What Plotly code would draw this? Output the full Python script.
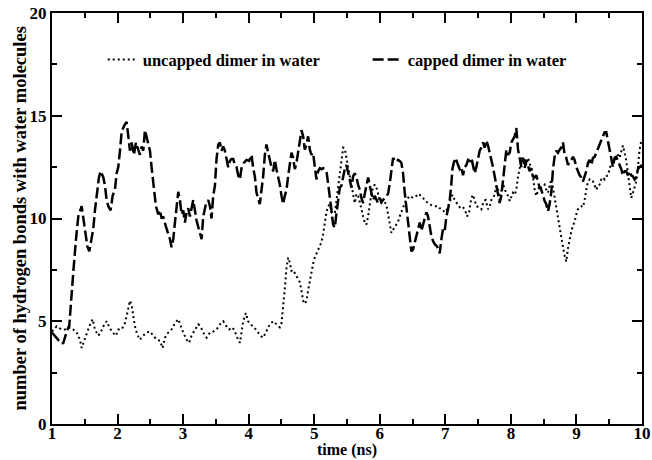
import plotly.graph_objects as go

# capped dimer in water (dashed)
capped_t = [1.000, 1.071, 1.147, 1.173, 1.224, 1.264, 1.300, 1.325, 1.366, 1.401, 1.452, 1.478, 1.503, 1.539, 1.569,
            1.605, 1.630, 1.655, 1.681, 1.716, 1.742, 1.783, 1.808, 1.833, 1.859, 1.894, 1.925, 1.960, 1.986, 2.011,
            2.037, 2.062, 2.098, 2.138, 2.164, 2.189, 2.214, 2.250, 2.280, 2.316, 2.341, 2.367, 2.392, 2.418, 2.443,
            2.468, 2.494, 2.519, 2.545, 2.585, 2.621, 2.646, 2.672, 2.697, 2.738, 2.773, 2.799, 2.824, 2.850, 2.875,
            2.900, 2.926, 2.951, 2.977, 3.002, 3.027, 3.053, 3.078, 3.104, 3.129, 3.154, 3.180, 3.205, 3.256, 3.282,
            3.307, 3.348, 3.383, 3.409, 3.434, 3.459, 3.485, 3.510, 3.536, 3.561, 3.586, 3.612, 3.637, 3.663, 3.688,
            3.713, 3.739, 3.764, 3.790, 3.815, 3.840, 3.866, 3.891, 3.926, 3.967, 4.008, 4.043, 4.069, 4.094, 4.120,
            4.145, 4.170, 4.196, 4.221, 4.247, 4.272, 4.297, 4.323, 4.348, 4.374, 4.399, 4.424, 4.450, 4.475, 4.501,
            4.526, 4.551, 4.577, 4.602, 4.628, 4.653, 4.678, 4.704, 4.729, 4.755, 4.780, 4.805, 4.831, 4.856, 4.882,
            4.907, 4.933, 4.958, 4.983, 5.009, 5.034, 5.060, 5.085, 5.110, 5.136, 5.161, 5.187, 5.212, 5.237, 5.263,
            5.288, 5.314, 5.339, 5.364, 5.390, 5.415, 5.441, 5.466, 5.491, 5.517, 5.542, 5.568, 5.593, 5.618, 5.644,
            5.669, 5.695, 5.720, 5.746, 5.771, 5.796, 5.822, 5.847, 5.873, 5.898, 5.923, 5.949, 5.974, 6.000, 6.025,
            6.050, 6.076, 6.101, 6.127, 6.152, 6.177, 6.203, 6.228, 6.254, 6.279, 6.304, 6.330, 6.355, 6.381, 6.406,
            6.431, 6.457, 6.482, 6.508, 6.533, 6.559, 6.584, 6.609, 6.635, 6.660, 6.686, 6.711, 6.736, 6.762, 6.787,
            6.813, 6.838, 6.874, 6.914, 6.940, 6.965, 6.991, 7.016, 7.041, 7.067, 7.092, 7.108, 7.128, 7.158, 7.194,
            7.219, 7.245, 7.270, 7.296, 7.321, 7.346, 7.372, 7.397, 7.423, 7.448, 7.473, 7.499, 7.524, 7.550, 7.575,
            7.600, 7.626, 7.651, 7.677, 7.702, 7.727, 7.753, 7.778, 7.804, 7.829, 7.854, 7.880, 7.905, 7.931, 7.956,
            7.982, 8.007, 8.032, 8.058, 8.083, 8.109, 8.134, 8.159, 8.185, 8.210, 8.236, 8.261, 8.286, 8.312, 8.337,
            8.363, 8.388, 8.413, 8.439, 8.464, 8.490, 8.515, 8.540, 8.566, 8.591, 8.617, 8.642, 8.667, 8.693, 8.718,
            8.744, 8.769, 8.795, 8.820, 8.845, 8.871, 8.896, 8.922, 8.947, 8.972, 8.998, 9.023, 9.049, 9.074, 9.099,
            9.125, 9.150, 9.176, 9.201, 9.226, 9.252, 9.277, 9.303, 9.328, 9.353, 9.379, 9.404, 9.430, 9.455, 9.480,
            9.506, 9.531, 9.557, 9.582, 9.608, 9.633, 9.658, 9.684, 9.709, 9.735, 9.760, 9.785, 9.811, 9.836, 9.862,
            9.887, 9.912, 9.938, 9.963, 10.000]
capped_hb = [4.45, 4.2, 3.9, 3.95, 4.5, 4.8, 6.1, 7.4, 9.0, 10.1, 10.6, 10.0, 9.3, 8.65, 8.4,
             9.1, 9.5, 10.4, 11.1, 12.0, 12.3, 12.0, 11.6, 10.9, 10.6, 10.4, 11.1, 11.4, 12.2, 12.5,
             13.3, 14.2, 14.5, 14.7, 14.0, 13.3, 13.7, 13.1, 13.7, 13.4, 13.1, 13.5, 13.3, 14.3, 14.0,
             13.7, 13.3, 12.5, 11.6, 10.6, 10.2, 10.4, 10.0, 10.1, 9.6, 9.3, 9.0, 8.6, 9.0, 9.8,
             10.6, 11.3, 10.9, 10.2, 10.4, 9.8, 10.3, 10.5, 10.1, 10.6, 10.9, 10.4, 9.9, 9.3, 9.0,
             10.1, 10.7, 10.9, 10.6, 10.0, 11.1, 11.6, 12.9, 13.6, 13.7, 13.3, 13.5, 13.3, 12.9, 12.5,
             12.8, 12.9, 12.9, 12.6, 12.5, 12.1, 11.9, 12.45, 12.7, 12.85, 12.8, 13.1, 12.45, 12.05, 11.25,
             10.9, 10.7, 11.4, 12.05, 13.1, 13.6, 13.2, 12.8, 12.5, 12.3, 12.85, 12.4, 12.05, 11.65, 11.1,
             10.7, 11.1, 11.4, 12.05, 12.8, 13.2, 12.95, 12.4, 12.7, 13.35, 13.75, 14.3, 14.0, 13.35, 13.6,
             14.0, 13.35, 13.1, 13.2, 12.5, 11.9, 12.3, 12.45, 12.4, 12.45, 12.4, 12.3, 11.7, 10.9, 10.4,
             9.7, 9.55, 10.25, 10.9, 11.5, 11.6, 12.1, 12.4, 12.6, 12.3, 11.9, 11.5, 12.05, 12.2, 12.0,
             11.65, 11.4, 11.0, 10.75, 11.2, 11.7, 12.0, 11.6, 11.2, 10.9, 11.1, 10.9, 10.75, 11.0, 10.8,
             10.9, 11.0, 11.1, 11.2, 11.7, 12.2, 12.95, 12.8, 12.75, 12.85, 12.8, 12.7, 12.2, 11.25, 10.6,
             9.8, 9.0, 8.4, 8.5, 8.8, 9.15, 9.55, 9.8, 9.4, 9.7, 10.1, 10.3, 10.1, 9.6, 9.15,
             8.9, 8.75, 8.65, 8.3, 9.0, 9.5, 9.4, 10.1, 10.45, 10.9, 11.7, 12.4, 12.7, 12.95, 12.6,
             12.4, 12.5, 12.1, 12.5, 12.6, 12.85, 12.8, 12.95, 12.6, 12.2, 12.5, 12.95, 13.3, 13.45, 13.7,
             13.45, 13.8, 13.55, 13.2, 12.95, 12.5, 12.05, 11.6, 11.25, 10.75, 11.1, 11.9, 12.7, 13.35, 13.1,
             13.2, 13.7, 13.85, 14.0, 14.4, 13.35, 12.95, 12.5, 12.95, 12.45, 12.85, 12.6, 12.3, 12.45, 12.05,
             12.0, 12.1, 11.8, 11.5, 11.4, 11.1, 10.85, 10.7, 10.35, 10.7, 11.3, 12.4, 13.0, 13.3, 13.2,
             13.35, 13.45, 13.7, 13.1, 12.95, 12.6, 12.8, 12.85, 13.0, 12.85, 12.5, 12.3, 12.1, 12.0, 11.8,
             12.05, 12.3, 12.7, 12.85, 12.6, 12.95, 13.0, 13.2, 13.35, 13.55, 13.8, 14.0, 14.2, 14.2, 13.8,
             13.45, 12.95, 12.5, 12.95, 13.0, 12.8, 12.6, 12.4, 12.1, 12.3, 12.3, 12.1, 12.3, 12.1, 12.05,
             11.9, 12.0, 12.4, 12.5, 12.6]

# uncapped dimer in water (dotted)
uncapped_t = [1.000, 1.071, 1.147, 1.224, 1.274, 1.325, 1.376, 1.427, 1.452, 1.488, 1.528, 1.569, 1.620, 1.655, 1.706,
              1.742, 1.783, 1.833, 1.874, 1.925, 1.976, 2.011, 2.062, 2.113, 2.148, 2.189, 2.214, 2.240, 2.265, 2.301,
              2.341, 2.392, 2.443, 2.494, 2.545, 2.596, 2.646, 2.687, 2.723, 2.773, 2.824, 2.875, 2.926, 2.961, 3.002,
              3.053, 3.093, 3.129, 3.180, 3.231, 3.266, 3.307, 3.358, 3.409, 3.459, 3.510, 3.561, 3.612, 3.663, 3.703,
              3.754, 3.790, 3.825, 3.866, 3.891, 3.916, 3.957, 3.992, 4.028, 4.069, 4.109, 4.145, 4.180, 4.221, 4.247,
              4.282, 4.323, 4.374, 4.424, 4.475, 4.501, 4.526, 4.541, 4.556, 4.577, 4.602, 4.628, 4.653, 4.678, 4.704,
              4.729, 4.755, 4.780, 4.805, 4.831, 4.856, 4.882, 4.907, 4.933, 4.958, 4.983, 5.009, 5.044, 5.075, 5.110,
              5.136, 5.161, 5.187, 5.212, 5.237, 5.263, 5.288, 5.314, 5.339, 5.364, 5.390, 5.415, 5.441, 5.466, 5.491,
              5.517, 5.542, 5.568, 5.593, 5.618, 5.644, 5.669, 5.695, 5.720, 5.746, 5.771, 5.796, 5.822, 5.847, 5.873,
              5.898, 5.923, 5.949, 5.974, 6.000, 6.025, 6.050, 6.076, 6.101, 6.127, 6.152, 6.177, 6.203, 6.228, 6.254,
              6.279, 6.304, 6.330, 6.355, 6.381, 6.406, 6.457, 6.508, 6.559, 6.584, 6.635, 6.686, 6.736, 6.787, 6.838,
              6.889, 6.914, 6.955, 6.991, 7.026, 7.067, 7.108, 7.143, 7.179, 7.219, 7.255, 7.296, 7.331, 7.362, 7.397,
              7.423, 7.448, 7.473, 7.514, 7.550, 7.585, 7.616, 7.651, 7.677, 7.702, 7.727, 7.753, 7.778, 7.804, 7.829,
              7.854, 7.880, 7.905, 7.931, 7.956, 7.982, 8.007, 8.032, 8.058, 8.083, 8.109, 8.134, 8.159, 8.185, 8.210,
              8.236, 8.261, 8.286, 8.312, 8.337, 8.363, 8.388, 8.413, 8.439, 8.464, 8.490, 8.515, 8.540, 8.566, 8.591,
              8.617, 8.642, 8.667, 8.693, 8.718, 8.744, 8.769, 8.795, 8.820, 8.845, 8.871, 8.896, 8.922, 8.947, 8.972,
              8.998, 9.023, 9.049, 9.074, 9.099, 9.125, 9.150, 9.176, 9.201, 9.226, 9.252, 9.277, 9.303, 9.328, 9.353,
              9.379, 9.404, 9.430, 9.455, 9.480, 9.506, 9.531, 9.557, 9.582, 9.608, 9.633, 9.658, 9.684, 9.709, 9.735,
              9.760, 9.785, 9.811, 9.836, 9.862, 9.887, 9.912, 9.938, 9.963, 9.994]
uncapped_hb = [4.5, 4.75, 4.6, 4.6, 4.7, 4.6, 4.45, 4.1, 3.7, 4.05, 4.45, 4.75, 5.1, 4.6, 4.3,
               4.45, 4.75, 5.0, 4.7, 4.45, 4.3, 4.6, 4.6, 4.9, 5.4, 6.0, 5.8, 5.3, 4.75, 4.35,
               4.1, 4.3, 4.45, 4.5, 4.3, 4.1, 4.05, 3.7, 4.2, 4.45, 4.6, 4.9, 5.1, 4.75, 4.45,
               4.1, 3.95, 4.3, 4.6, 4.85, 4.75, 4.45, 4.2, 4.45, 4.5, 4.6, 4.85, 5.0, 4.75, 4.6,
               4.7, 4.5, 4.2, 3.95, 4.45, 5.0, 5.4, 5.0, 4.85, 4.75, 4.6, 4.45, 4.3, 4.2, 4.35,
               4.6, 4.85, 5.0, 4.85, 4.7, 4.9, 5.6, 6.2, 6.75, 7.6, 8.1, 7.85, 7.45, 7.5, 7.35,
               7.2, 7.05, 6.9, 6.5, 6.0, 5.85, 6.0, 6.5, 6.95, 7.45, 7.8, 8.1, 8.35, 8.6, 8.85,
               9.25, 9.8, 10.3, 10.6, 10.7, 10.3, 10.25, 10.25, 10.9, 11.4, 12.2, 12.8, 13.45, 13.4, 12.95,
               12.6, 12.1, 11.6, 11.1, 10.75, 11.2, 11.1, 10.8, 10.4, 10.1, 9.8, 9.7, 10.1, 10.75, 11.25,
               11.5, 11.65, 11.5, 11.2, 10.9, 10.75, 10.8, 10.8, 10.65, 10.2, 9.7, 9.3, 9.45, 9.6, 9.7,
               9.85, 10.1, 10.35, 10.6, 10.75, 10.9, 11.1, 11.0, 11.1, 11.2, 11.1, 10.9, 10.75, 10.65, 10.6,
               10.6, 10.5, 10.45, 10.3, 10.45, 10.85, 11.15, 10.9, 10.7, 10.55, 10.6, 10.45, 10.1, 10.3, 11.0,
               11.15, 10.9, 10.6, 10.55, 10.45, 10.85, 10.9, 10.45, 10.6, 10.9, 11.0, 11.15, 11.6, 11.4, 10.9,
               11.25, 11.7, 11.4, 11.25, 11.1, 10.85, 11.1, 11.25, 11.15, 11.4, 12.05, 12.5, 12.85, 13.0, 12.85,
               12.6, 12.95, 12.7, 12.4, 12.0, 11.4, 11.1, 11.35, 11.6, 11.5, 11.6, 11.65, 11.4, 11.25, 11.6,
               11.9, 11.5, 11.0, 10.45, 9.95, 9.4, 8.9, 8.6, 8.2, 7.9, 8.55, 9.0, 9.4, 9.65, 9.85,
               10.2, 10.45, 10.55, 10.6, 10.55, 10.9, 11.4, 11.8, 11.9, 11.8, 11.8, 11.6, 11.4, 11.6, 11.65,
               11.9, 12.0, 11.9, 12.05, 12.1, 12.45, 12.7, 12.8, 12.85, 12.95, 13.1, 12.95, 13.2, 13.55, 13.2,
               12.8, 12.2, 11.7, 11.0, 11.25, 11.6, 11.8, 12.5, 13.35, 13.85]

x_ticks = [1, 2, 3, 4, 5, 6, 7, 8, 9, 10]
y_ticks = [0, 5, 10, 15, 20]
x_title = "time (ns)"
y_title = "number of hydrogen bonds with water molecules"

FONT = "Liberation Serif"
legend_font = dict(family=FONT, size=16.5, color="black", weight="bold")

fig = go.Figure()
fig.add_trace(go.Scatter(
    x=uncapped_t, y=uncapped_hb, mode="lines", name="uncapped dimer in water", legend="legend",
    line=dict(color="black", width=2, dash="2px,3px")))
fig.add_trace(go.Scatter(
    x=capped_t, y=capped_hb, mode="lines", name="capped dimer in water", legend="legend2",
    line=dict(color="black", width=2.5, dash="11px,4px")))

axis_common = dict(
    showgrid=False, zeroline=False, showline=True, linecolor="black", linewidth=2,
    ticks="inside", ticklen=10, tickwidth=1.5, tickcolor="black", mirror="ticks",
    tickfont=dict(family=FONT, size=17, color="black", weight="bold"),
    automargin=False,
)

fig.update_xaxes(range=[1, 10], tickvals=x_ticks, ticktext=[str(v) for v in x_ticks],
                 minor=dict(dtick=0.5, ticks="inside", ticklen=5, tickwidth=1.5, tickcolor="black"),
                 ticklabelstandoff=-7,
                 **axis_common)
fig.update_yaxes(range=[0, 20], tickvals=y_ticks, ticktext=[str(v) for v in y_ticks],
                 minor=dict(dtick=2.5, ticks="inside", ticklen=5, tickwidth=1.5, tickcolor="black"),
                 **axis_common)

fig.add_annotation(text=x_title, xref="paper", yref="paper", x=0.5, y=-36 / 411,
                   xanchor="center", yanchor="bottom", showarrow=False, borderpad=0,
                   font=dict(family=FONT, size=16, color="black", weight="bold"))
fig.add_annotation(text=y_title, xref="paper", yref="paper", x=-33 / 590, y=0.5, textangle=-90,
                   xanchor="center", yanchor="middle", showarrow=False,
                   font=dict(family=FONT, size=18.5, color="black", weight="bold"))

fig.update_layout(
    width=652, height=460,
    margin=dict(l=52, r=10, t=13, b=36),
    paper_bgcolor="white", plot_bgcolor="white",
    showlegend=True,
    legend=dict(orientation="h", x=0.086, y=0.886, xanchor="left", yanchor="middle",
                bgcolor="rgba(0,0,0,0)", font=legend_font, itemwidth=30),
    legend2=dict(orientation="h", x=0.535, y=0.886, xanchor="left", yanchor="middle",
                 bgcolor="rgba(0,0,0,0)", font=legend_font, itemwidth=30),
)

fig.write_html("out.html")
